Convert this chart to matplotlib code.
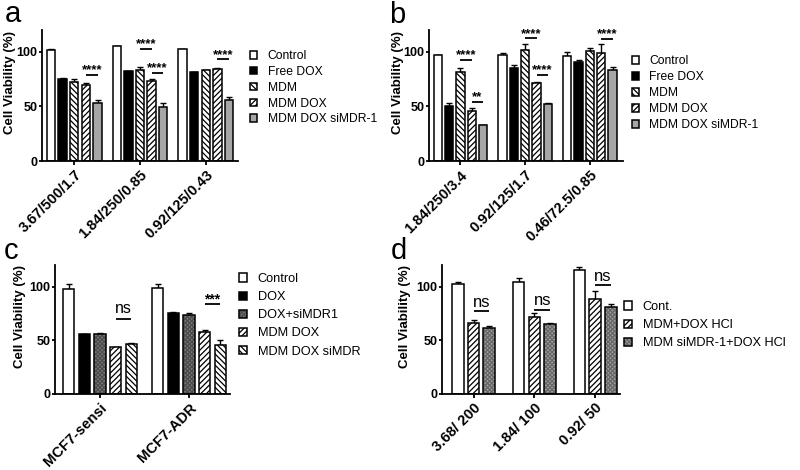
import matplotlib
matplotlib.use('Agg')
import matplotlib.pyplot as plt
import numpy as np

plt.rcParams['font.family'] = ['Liberation Sans', 'DejaVu Sans']
plt.rcParams['hatch.linewidth'] = 0.9

# ---- data ----
a_groups = ['3.67/500/1.7', '1.84/250/0.85', '0.92/125/0.43']
a_series = ['Control', 'Free DOX', 'MDM', 'MDM DOX', 'MDM DOX siMDR-1']
a_vals = [[102, 105.5, 102.5],
          [75.5, 82.5, 81.5],
          [72.5, 83.5, 83],
          [70, 73.5, 84],
          [53, 49.5, 55.5]]
a_errs = [[1, 0, 0],
          [0.5, 0.3, 0.3],
          [3, 2.5, 0.8],
          [1, 1.5, 1.3],
          [2.5, 4, 3]]
a_sig = [(0, 3, 4, 79, '****'), (1, 2, 3, 102.4, '****'),
         (1, 3, 4, 80.8, '****'), (2, 3, 4, 93, '****')]

b_groups = ['1.84/250/3.4', '0.92/125/1.7', '0.46/72.5/0.85']
b_series = ['Control', 'Free DOX', 'MDM', 'MDM DOX', 'MDM DOX siMDR-1']
b_vals = [[97, 97, 96],
          [50.5, 85.5, 90.5],
          [81.5, 101.5, 100.5],
          [45.5, 71.5, 98.5],
          [33, 52.5, 83]]
b_errs = [[0.3, 2, 3.5],
          [3, 2, 2],
          [4, 6, 3],
          [3.5, 1, 8.5],
          [0.3, 0.3, 3]]
b_sig = [(0, 2, 3, 92.6, '****'), (0, 3, 4, 54, '**'),
         (1, 2, 3, 112.3, '****'), (1, 3, 4, 79, '****'),
         (2, 3, 4, 111.7, '****')]

c_groups = ['MCF7-sensi', 'MCF7-ADR']
c_series = ['Control', 'DOX', 'DOX+siMDR1', 'MDM DOX', 'MDM DOX siMDR']
c_vals = [[98, 99],
          [55.5, 75.7],
          [56, 73.5],
          [43.5, 57.5],
          [46.7, 46]]
c_errs = [[4, 3.5],
          [0.3, 1],
          [1, 2],
          [0.5, 2.5],
          [1, 4]]
c_sig = [(0, 3, 4, 69.5, 'ns'), (1, 3, 4, 83.5, '***')]

d_groups = ['3.68/ 200', '1.84/ 100', '0.92/ 50']
d_series = ['Cont.', 'MDM+DOX HCl', 'MDM siMDR-1+DOX HCl']
d_vals = [[102, 104, 115],
          [66.5, 71.5, 88],
          [61.5, 65, 81]]
d_errs = [[2.5, 4, 3],
          [2, 3.5, 8],
          [2, 1, 2.5]]
d_sig = [(0, 1, 2, 77, 'ns'), (1, 1, 2, 78.5, 'ns'), (2, 1, 2, 101.5, 'ns')]

# ---- styles: (face, hatch, hatch colour) ----
st_ab = [('white', None, None), ('black', None, None),
         ('white', '\\\\\\\\\\\\', None), ('white', '//////', None),
         ('#a6a6a6', None, None)]
st_c = [('white', None, None), ('black', None, None),
        ('#7c7c7c', 'xxxxxxxx', '#4a4a4a'),
        ('white', '//////', None), ('white', '\\\\\\\\\\\\', None)]
st_d = [('white', None, None), ('white', '//////', None),
        ('#a2a2a2', 'xxxxxxxx', '#666666')]


def panel(ax, groups, series, vals, errs, styles, step, width, xlim, sig,
          sig_dy, sig_fs):
    n = len(series)
    x = np.arange(len(groups))
    handles = []
    for i in range(n):
        pos = x + (i - (n - 1) / 2) * step
        fc, h, hc = styles[i]
        if hc is None:
            b = ax.bar(pos, vals[i], width, color=fc, edgecolor='black', hatch=h,
                       linewidth=1.1, zorder=2)
            handles.append(b[0])
        else:
            # stippled grey: hatched fill plus a separate black outline
            b1 = ax.bar(pos, vals[i], width, color=fc, edgecolor=hc, hatch=h,
                        linewidth=0, zorder=2)
            b2 = ax.bar(pos, vals[i], width, fill=False, edgecolor='black',
                        linewidth=1.1, zorder=2.1)
            handles.append((b1[0], b2[0]))
        ax.errorbar(pos, vals[i], yerr=[np.zeros(len(groups)), errs[i]],
                    fmt='none', ecolor='black', elinewidth=1.0, capsize=2.2,
                    capthick=1.0, zorder=1)
    for g, i, j, yl, txt in sig:
        x1 = g + (i - (n - 1) / 2) * step
        x2 = g + (j - (n - 1) / 2) * step
        ax.plot([x1, x2], [yl, yl], color='black', lw=1.3, solid_capstyle='butt')
        ax.text((x1 + x2) / 2, yl + sig_dy[txt], txt, ha='center',
                va='baseline', fontsize=sig_fs[txt],
                fontweight='bold' if '*' in txt else 'normal')
    ax.set_xlim(*xlim)
    ax.set_ylim(0, 120)
    ax.set_yticks([0, 50, 100])
    ax.set_xticks(x)
    ax.set_xticklabels(groups, rotation=45, ha='right', va='top',
                       rotation_mode='anchor', fontsize=10.5, fontweight='bold')
    for t in ax.get_yticklabels():
        t.set_fontweight('bold')
        t.set_fontsize(9)
    ax.spines['top'].set_visible(False)
    ax.spines['right'].set_visible(False)
    for s in ['left', 'bottom']:
        ax.spines[s].set_linewidth(1.3)
    ax.tick_params(axis='y', length=2.5, width=1.3, pad=0.6)
    ax.tick_params(axis='x', length=3, width=1.3, pad=2)
    ax.set_ylabel('Cell Viability (%)', fontsize=9.5, fontweight='bold')
    return handles


fig = plt.figure(figsize=(8, 4.7), dpi=100)
W, H = 800, 470


def rect(l, r, top, bot):
    return [l / W, 1 - bot / H, (r - l) / W, (bot - top) / H]


ax_a = fig.add_axes(rect(42, 238, 30, 161))
ax_b = fig.add_axes(rect(429, 623, 30, 161))
ax_c = fig.add_axes(rect(55, 230, 265, 394))
ax_d = fig.add_axes(rect(442, 620, 265, 394))

star_dy = {'****': 1.5, '***': 1.0, '**': 1.5, 'ns': 5.5}
star_fs = {'****': 9.5, '***': 10, '**': 9.5, 'ns': 11.5}
h_a = panel(ax_a, a_groups, a_series, a_vals, a_errs, st_ab, 0.177, 0.128,
            (-0.49, 2.49), a_sig, star_dy, star_fs)
h_b = panel(ax_b, b_groups, b_series, b_vals, b_errs, st_ab, 0.175, 0.129,
            (-0.485, 2.51), b_sig, star_dy, star_fs)
h_c = panel(ax_c, c_groups, c_series, c_vals, c_errs, st_c, 0.176, 0.127,
            (-0.505, 1.46), c_sig, star_dy, star_fs)
star_dy_d = dict(star_dy, ns=4.0)
star_fs_d = dict(star_fs, ns=12)
h_d = panel(ax_d, d_groups, d_series, d_vals, d_errs, st_d, 0.258, 0.19,
            (-0.52, 2.41), d_sig, star_dy_d, star_fs_d)

ax_a.yaxis.set_label_coords(-0.135, 0.6)
ax_b.yaxis.set_label_coords(-0.13, 0.6)
ax_c.yaxis.set_label_coords(-0.165, 0.6)
ax_d.yaxis.set_label_coords(-0.172, 0.6)

leg_kw = dict(loc='upper left', frameon=False, borderpad=0, borderaxespad=0,
              handlelength=0.6, handleheight=0.6, handletextpad=0.85,
              bbox_transform=fig.transFigure)
ax_a.legend(h_a, a_series, bbox_to_anchor=(250 / W, 1 - 50 / H),
            fontsize=8.7, labelspacing=0.32, **leg_kw)
ax_b.legend(h_b, b_series, bbox_to_anchor=(631.5 / W, 1 - 55.5 / H),
            fontsize=8.7, labelspacing=0.32, **leg_kw)
ax_c.legend(h_c, c_series, bbox_to_anchor=(239 / W, 1 - 273 / H),
            fontsize=9.2, labelspacing=0.48, **leg_kw)
ax_d.legend(h_d, d_series, bbox_to_anchor=(624 / W, 1 - 301 / H),
            fontsize=9.2, labelspacing=0.48, **leg_kw)

for lab, x, y in [('a', 5, 22), ('b', 389, 23), ('c', 4, 259), ('d', 391, 259)]:
    fig.text(x / W, 1 - y / H, lab, fontsize=21, ha='left', va='baseline')

fig.savefig('out.png', dpi=100)
